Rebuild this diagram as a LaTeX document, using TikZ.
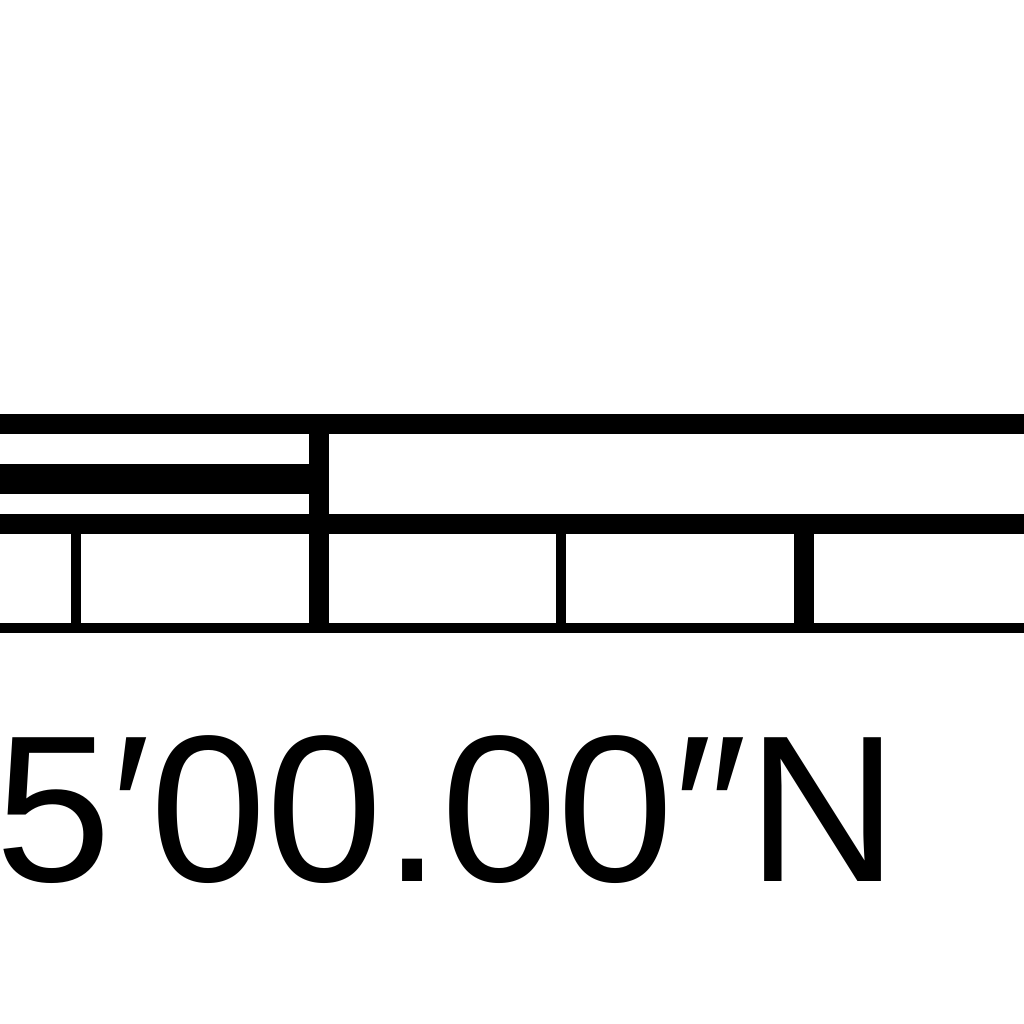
\documentclass[tikz,border=0pt]{standalone}
\usepackage{fontspec}
\setmainfont{Liberation Sans}
\begin{document}
\begin{tikzpicture}[x=1pt,y=-1pt,
  ink/.style={fill=black,draw=none}]
\useasboundingbox (0,0) rectangle (1024,1024);
% horizontal border lines
\fill[ink] (0,414) rectangle (1024,434);
\fill[ink] (0,464) rectangle (329,494);
\fill[ink] (0,514) rectangle (1024,534);
\fill[ink] (0,623) rectangle (1024,633);
% vertical ticks
\fill[ink] (309,434) rectangle (329,623);
\fill[ink] (71,534) rectangle (81,623);
\fill[ink] (556,534) rectangle (566,623);
\fill[ink] (794,534) rectangle (814,623);
% label
\node[anchor=base west,inner sep=0pt,font=\fontsize{209}{209}\selectfont] (lbl) at (0,881) {\hspace*{-5pt}5′00.00″N};
\end{tikzpicture}
\end{document}
